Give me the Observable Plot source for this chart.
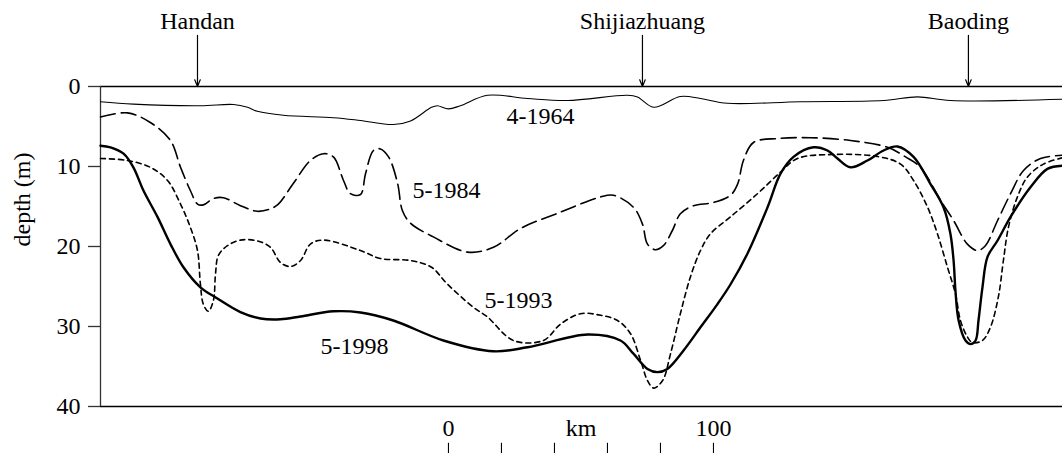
<!DOCTYPE html>
<html><head><meta charset="utf-8">
<script src="https://cdn.jsdelivr.net/npm/d3@7"></script>
<script src="https://cdn.jsdelivr.net/npm/@observablehq/plot@0.6"></script>
<style>body{margin:0;background:#fff}</style>
</head><body><div id="chart"></div>
<script>
// x = distance along profile in km (0 at scale-bar origin), depth in m
const xDomain = [-131.3, 231.7];
const depthTicks = [0, 10, 20, 30, 40];
const cities = ["Handan", "Shijiazhuang", "Baoding"];
const cityKm = [-94.7, 73.2, 196.2];
const scaleTicks = [0, 20, 40, 60, 80, 100];
const scaleLabels = ["0", "", "", "", "", "100"];
const seriesNames = ["4-1964", "5-1984", "5-1993", "5-1998"];
const labelKm = [34.7, -0.75, 26.4, -35.5];
const labelDepth = [3.7, 12.95, 26.7, 32.45];

const s1964 = [[-131.3,1.9],[-118.9,2.2],[-93.6,2.4],[-81.1,2.25],[-75.8,2.6],[-72.1,3.1],[-62.3,3.6],[-43.4,3.9],[-33.2,4.25],[-20.8,4.75],[-14.3,4.3],[-6.4,2.6],[-4.2,2.4],[0,2.8],[4.5,2.4],[14.7,1.1],[29.8,1.5],[44.9,1.75],[67.5,1.1],[71.3,1.3],[77.4,2.6],[87.5,1.25],[95.1,1.5],[105.3,2.1],[132.8,1.9],[164.2,1.75],[177.0,1.3],[189.4,1.75],[231.7,1.6]];
const s1984 = [[-131.3,3.8],[-121.1,3.3],[-112.5,4.5],[-104.9,6.75],[-101.1,10.1],[-97.4,13.0],[-94.7,14.7],[-92.5,14.8],[-88.7,14.0],[-84.9,13.9],[-78.5,14.9],[-72.1,15.6],[-67.2,15.3],[-64.2,14.7],[-58.5,12.1],[-52.1,9.25],[-47.2,8.4],[-43.4,8.8],[-39.6,11.75],[-37.0,13.4],[-33.2,13.5],[-31.3,10.9],[-28.3,8.0],[-25.7,7.8],[-22.6,8.8],[-19.2,12.1],[-17.4,15.5],[-14.3,17.1],[-5.7,18.8],[7.2,20.7],[17.0,20.1],[27.2,17.75],[42.3,15.7],[57.4,13.8],[62.3,13.6],[69.8,15.1],[73.2,17.2],[75.1,19.7],[78.1,20.4],[81.1,19.9],[84.5,18.0],[87.5,15.9],[92.5,14.9],[100.0,14.5],[106.4,13.6],[109.1,12.2],[111.3,9.25],[115.1,7.0],[124.2,6.5],[136.6,6.4],[151.7,6.75],[165.7,7.6],[172.5,8.8],[178.1,10.1],[185.7,14.25],[190.6,16.75],[195.8,19.7],[199.6,20.5],[202.6,19.9],[207.2,16.75],[212.1,13.4],[217.0,10.5],[223.4,9.0],[231.7,8.6]];
const s1993 = [[-131.3,9.0],[-121.1,9.25],[-112.5,10.1],[-106.0,11.75],[-101.1,14.7],[-97.4,17.6],[-94.7,20.5],[-93.6,24.7],[-92.5,27.2],[-90.6,28.1],[-88.7,26.75],[-87.9,23.4],[-86.8,21.1],[-83.4,19.9],[-78.5,19.2],[-72.1,19.3],[-67.2,20.1],[-63.4,22.0],[-59.6,22.5],[-55.8,21.75],[-52.1,19.7],[-47.2,19.2],[-33.2,20.5],[-25.7,21.5],[-14.3,21.75],[-6.4,22.6],[-0.4,24.7],[9.4,27.6],[14.7,28.8],[24.5,31.75],[35.8,31.75],[42.3,29.7],[49.8,28.4],[57.4,28.6],[63.8,29.25],[68.7,30.9],[72.5,34.25],[75.1,36.75],[77.4,37.7],[80.8,36.75],[83.8,33.4],[87.5,28.4],[91.3,23.8],[95.1,20.5],[98.9,18.4],[106.4,16.3],[116.6,13.4],[125.3,10.7],[131.7,9.0],[145.3,8.5],[161.9,8.75],[170.6,9.7],[175.5,11.75],[180.8,15.1],[184.5,18.4],[188.3,22.6],[191.3,25.9],[193.2,29.25],[195.8,31.3],[197.7,32.0],[201.5,31.75],[204.5,30.1],[207.5,26.3],[209.4,21.75],[211.3,17.6],[214.7,13.8],[218.5,11.3],[224.5,9.7],[231.7,8.9]];
const s1998 = [[-131.3,7.4],[-127.5,7.6],[-122.6,8.4],[-118.9,10.1],[-115.1,13.0],[-109.8,16.3],[-104.9,19.7],[-100.0,22.6],[-93.6,25.1],[-87.2,26.5],[-78.5,28.2],[-70.9,29.0],[-63.4,29.1],[-55.8,28.75],[-43.4,28.1],[-33.2,28.25],[-20.8,29.25],[-1.9,31.75],[17.0,33.1],[29.8,32.6],[52.5,31.0],[64.9,31.75],[69.8,33.4],[75.1,35.3],[78.9,35.7],[82.6,35.3],[88.7,33.0],[95.1,30.1],[101.5,27.2],[106.4,24.75],[112.8,20.9],[120.4,15.1],[125.3,10.9],[130.2,8.8],[137.7,7.6],[143.0,8.0],[146.8,9.0],[151.7,10.1],[158.1,9.25],[164.2,8.0],[169.4,7.5],[175.5,8.8],[181.9,12.2],[186.8,15.1],[189.4,18.4],[190.6,21.75],[191.3,25.5],[192.5,29.25],[195.1,31.75],[197.0,32.2],[198.9,31.75],[200.0,29.25],[201.5,25.1],[203.4,21.3],[207.2,19.25],[212.1,16.3],[219.6,12.6],[226.0,10.3],[231.7,9.9]];

const toRows = (arr) => arr.map(([km, depth]) => ({km, depth}));
const font = "'Liberation Serif', 'Times New Roman', serif";
const fs = 24;

const chart = Plot.plot({
  width: 1062,
  height: 453,
  marginLeft: 100,
  marginRight: 0,
  marginTop: 86,
  marginBottom: 47,
  style: {fontFamily: font, fontSize: fs + "px", background: "white", color: "black", overflow: "visible"},
  x: {domain: xDomain, axis: null},
  y: {domain: [0, 40], reverse: true, axis: null},
  marks: [
    Plot.ruleY([0], {stroke: "black", strokeWidth: 1.3}),
    Plot.ruleY([40], {stroke: "black", strokeWidth: 1.3}),
    Plot.ruleX([xDomain[0]], {y1: 0, y2: 40, stroke: "#333", strokeWidth: 1.3}),
    Plot.axisY({ticks: depthTicks, tickSize: 12, tickPadding: 8, label: null, stroke: "#333", strokeWidth: 1.3, fontSize: fs}),
    Plot.text(["depth (m)"], {frameAnchor: "left", dx: -78, rotate: -90, fontSize: fs}),
    Plot.line(toRows(s1964), {x: "km", y: "depth", curve: "catmull-rom", stroke: "black", strokeWidth: 1.1}),
    Plot.line(toRows(s1984), {x: "km", y: "depth", curve: "catmull-rom", stroke: "black", strokeWidth: 1.6, strokeDasharray: "15,6"}),
    Plot.line(toRows(s1993), {x: "km", y: "depth", curve: "catmull-rom", stroke: "black", strokeWidth: 1.6, strokeDasharray: "5,4"}),
    Plot.line(toRows(s1998), {x: "km", y: "depth", curve: "catmull-rom", stroke: "black", strokeWidth: 2.4}),
    Plot.text(seriesNames, {x: (d, i) => labelKm[i], y: (d, i) => labelDepth[i], text: d => d, fontSize: fs}),
    Plot.arrow(cities, {x1: (d, i) => cityKm[i], x2: (d, i) => cityKm[i], y1: -6.4, y2: 0, headLength: 9, headAngle: 45, stroke: "black", strokeWidth: 1.2}),
    Plot.text(cities, {x: (d, i) => cityKm[i], y: -8.1, text: d => d, fontSize: fs}),
    Plot.ruleX(scaleTicks, {x: d => d, y1: 44.6, y2: 45.9, stroke: "black", strokeWidth: 1.1}),
    Plot.text(scaleTicks, {x: d => d, y: 42.7, text: (d, i) => scaleLabels[i], fontSize: fs}),
    Plot.text(["km"], {x: 50, y: 42.7, text: d => d, fontSize: fs})
  ]
});
document.getElementById("chart").appendChild(chart);
</script>
</body></html>
